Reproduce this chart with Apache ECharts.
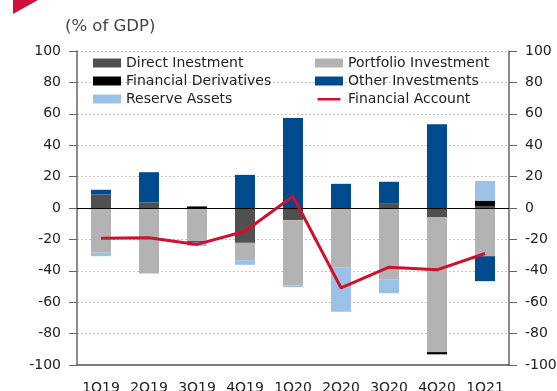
<!DOCTYPE html>
<html><head><meta charset="utf-8">
<script src="https://cdn.jsdelivr.net/npm/echarts@6/dist/echarts.min.js"></script>
<style>html,body{margin:0;padding:0;background:#fff}#c{width:557px;height:391px}</style>
</head><body><div id="c"></div>
<script>
const categories = ['1Q19','2Q19','3Q19','4Q19','1Q20','2Q20','3Q20','4Q20','1Q21'];
const directInvestment = [8.6, 3.5, 0, -22.2, -7.8, 0, 2.7, -6, 1.3];
const portfolioInvestment = [-28.5, -41.7, -21.1, -11, -41.6, -38.1, -45.7, -85.8, -30.7];
const financialDerivatives = [0, 0, 1, 0, 0, 0, 0, -1.4, 3.4];
const otherInvestments = [3, 19.3, -1, 21.1, 57.4, 15.4, 14, 53.4, -15.9];
const reserveAssets = [-2.2, 0, -2, -3, -1, -28, -8.6, 0, 12.5];
const financialAccount = [-19.2, -19, -23.2, -14.8, 7.5, -50.8, -37.7, -39.4, -29];

const FONT = 'DejaVu Sans';
const chart = echarts.init(document.getElementById('c'));
const bar = (name, data, color) => ({
  name, type: 'bar', stack: 'fa', data, barWidth: 20,
  itemStyle: { color }, yAxisIndex: 0
});
const yCommon = {
  type: 'value', min: -100, max: 100, interval: 20,
  axisLine: { show: true, lineStyle: { color: '#666', width: 1.5 } },
  axisTick: { show: true, inside: false, length: 8, lineStyle: { color: '#666' } },
  axisLabel: { color: '#222', fontFamily: FONT, fontSize: 14, margin: 16 }
};
const lineIcon = 'path://M0,0L0.01,0L0,0.01Z M0,4.2H28V7.2H0Z M0,11L0.01,11L0,11.01Z';
const legendText = { fontFamily: FONT, fontSize: 14, color: '#222', lineHeight: 18 };
chart.setOption({
  animation: false,
  textStyle: { fontFamily: FONT },
  graphic: [
    { type: 'polygon', shape: { points: [[13,0],[38,0],[13,14]] }, style: { fill: '#d0103a' } },
    { type: 'text', left: 65, top: 18, style: { text: '(% of GDP)', fill: '#444', font: '16.5px "DejaVu Sans"' } }
  ],
  grid: { left: 77, right: 48, top: 51, bottom: 26, containLabel: false, outerBoundsMode: 'none' },
  legend: [
    { data: [{ name: 'Direct Inestment', icon: 'rect' }, { name: 'Financial Derivatives', icon: 'rect' }, { name: 'Reserve Assets', icon: 'rect' }],
      orient: 'vertical', left: 93, top: 54, padding: 0, itemGap: 0, itemWidth: 28, itemHeight: 9,
      textStyle: legendText },
    { data: [{ name: 'Portfolio Investment', icon: 'rect' }, { name: 'Other Investments', icon: 'rect' }, { name: 'Financial Account', icon: lineIcon }],
      orient: 'vertical', left: 315, top: 54, padding: 0, itemGap: 0, itemWidth: 28, itemHeight: 9,
      textStyle: legendText }
  ],
  xAxis: {
    type: 'category', data: categories,
    axisLine: { show: true, onZero: false, lineStyle: { color: '#555', width: 1.5 } },
    axisTick: { show: false },
    axisLabel: { color: '#222', fontFamily: FONT, fontSize: 14, margin: 16, interval: 0 }
  },
  yAxis: [
    Object.assign({}, yCommon, { position: 'left',
      splitLine: { show: true, lineStyle: { color: '#c4c4c4', type: [2, 2], width: 1 } } }),
    Object.assign({}, yCommon, { position: 'right', splitLine: { show: false } })
  ],
  series: [
    bar('Direct Inestment', directInvestment, '#505050'),
    bar('Portfolio Investment', portfolioInvestment, '#b3b3b3'),
    bar('Financial Derivatives', financialDerivatives, '#000000'),
    bar('Other Investments', otherInvestments, '#004a8d'),
    bar('Reserve Assets', reserveAssets, '#9ac2e7'),
    { name: 'Financial Account', type: 'line', data: financialAccount, symbol: 'none',
      lineStyle: { color: '#d0112b', width: 3 }, itemStyle: { color: '#d0112b' }, z: 5,
      markLine: { silent: true, symbol: 'none', label: { show: false },
        lineStyle: { color: '#000', type: 'solid', width: 1.2 }, data: [{ yAxis: 0 }] } }
  ]
});
</script></body></html>
